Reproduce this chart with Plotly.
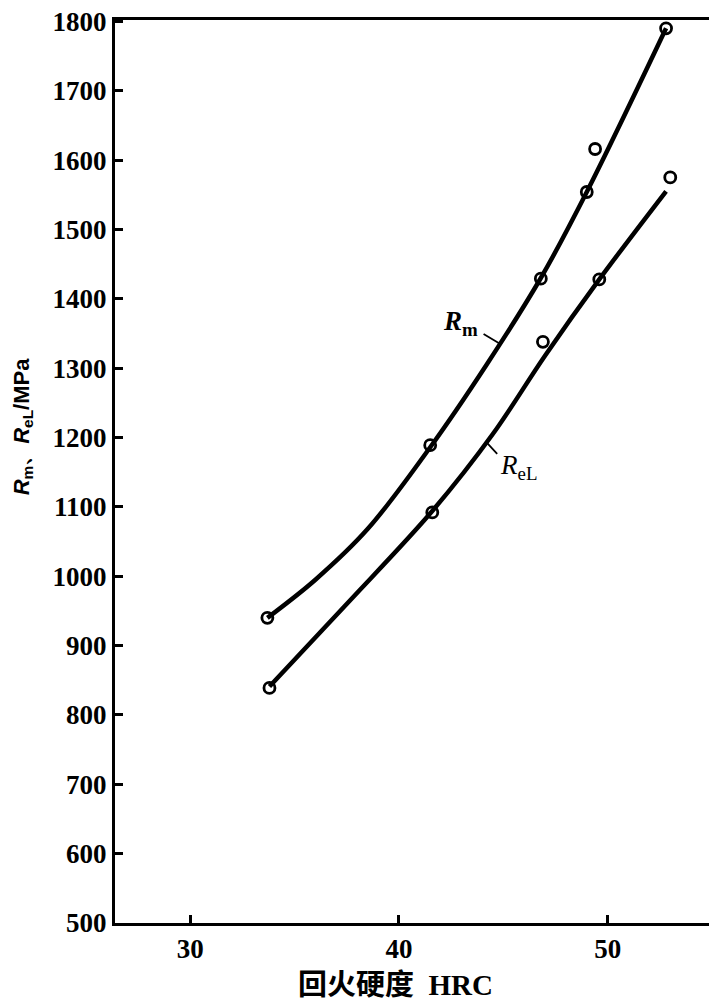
import plotly.graph_objects as go

# Measured points (HRC, MPa)
rm_hrc = [33.7, 41.5, 46.8, 49.0, 49.4, 52.8]
rm_mpa = [940, 1189, 1429, 1554, 1616, 1790]
rel_hrc = [33.8, 41.6, 46.9, 49.6, 53.0]
rel_mpa = [839, 1092, 1338, 1428, 1575]

# Smooth trend curves
rm_curve_hrc = [33.7, 36.0, 38.5, 41.5, 44.2, 46.8, 49.0, 52.8]
rm_curve_mpa = [940, 995, 1068, 1186, 1305, 1430, 1554, 1790]
rel_curve_hrc = [33.8, 37.5, 41.6, 44.5, 47.0, 49.6, 52.8]
rel_curve_mpa = [841, 960, 1094, 1205, 1318, 1428, 1555]

x_ticks = [30, 40, 50]
y_ticks = [500, 600, 700, 800, 900, 1000, 1100, 1200, 1300, 1400, 1500, 1600, 1700, 1800]

fig = go.Figure()
for cx, cy in [(rm_curve_hrc, rm_curve_mpa), (rel_curve_hrc, rel_curve_mpa)]:
    fig.add_trace(go.Scatter(x=cx, y=cy, mode="lines",
                             line=dict(color="black", width=4.5, shape="spline", smoothing=1.0),
                             hoverinfo="skip", showlegend=False))
marker = dict(symbol="circle-open", size=11, color="black", line=dict(width=2.8, color="black"))
fig.add_trace(go.Scatter(x=rm_hrc, y=rm_mpa, mode="markers", marker=marker, name="Rm", showlegend=False))
fig.add_trace(go.Scatter(x=rel_hrc, y=rel_mpa, mode="markers", marker=marker, name="ReL", showlegend=False))

serif = "Liberation Serif, Times New Roman, serif"
# Leader lines
fig.add_annotation(x=44.8, y=1336, text="", showarrow=True, ax=-17, ay=-10,
                   arrowhead=0, arrowwidth=1.8, arrowcolor="black")
fig.add_annotation(x=44.2, y=1193, text="", showarrow=True, ax=12, ay=13,
                   arrowhead=0, arrowwidth=1.8, arrowcolor="black")
# Curve labels
fig.add_annotation(x=44.8, y=1336, xshift=-19, yshift=20, text="<i>R</i><sub>m</sub>", showarrow=False,
                   xanchor="right", yanchor="middle",
                   font=dict(family=serif, size=27, color="black", weight="bold"))
fig.add_annotation(x=44.2, y=1193, xshift=11, yshift=-6, text="<i>R</i><sub>eL</sub>", showarrow=False,
                   xanchor="left", yanchor="top",
                   font=dict(family=serif, size=27, color="black"))

# Axis titles
fig.add_annotation(xref="paper", yref="paper", x=0, y=0.55, xshift=-92, showarrow=False,
                   text="<i>R</i><sub>m</sub>、<i>R</i><sub>eL</sub>/MPa", textangle=-90,
                   xanchor="center", yanchor="middle",
                   font=dict(family="Liberation Sans, Arial, sans-serif", size=22, color="black", weight="bold"))
fig.add_annotation(xref="paper", yref="paper", x=0.47, y=0, yshift=-62, showarrow=False,
                   text="回火硬度  HRC", xanchor="center", yanchor="middle",
                   font=dict(family="Liberation Serif, Noto Sans CJK SC", size=29, color="black", weight="bold"))

axis_common = dict(showline=True, linecolor="black", linewidth=3, mirror=True,
                   ticks="inside", ticklen=8, tickwidth=2.5, tickcolor="black",
                   showgrid=False, zeroline=False, ticklabeloverflow="allow", automargin=False,
                   tickfont=dict(family=serif, size=27, color="black", weight="bold"))

fig.update_xaxes(range=[26.4, 55.0], tickvals=x_ticks, ticktext=[str(v) for v in x_ticks], **axis_common)
fig.update_yaxes(range=[500, 1802], tickvals=y_ticks, ticktext=[str(v) for v in y_ticks], **axis_common)

fig.update_layout(width=717, height=1003, margin=dict(l=107, r=13, t=12, b=88),
                  paper_bgcolor="white", plot_bgcolor="white", showlegend=False)

fig.write_html("out.html")
